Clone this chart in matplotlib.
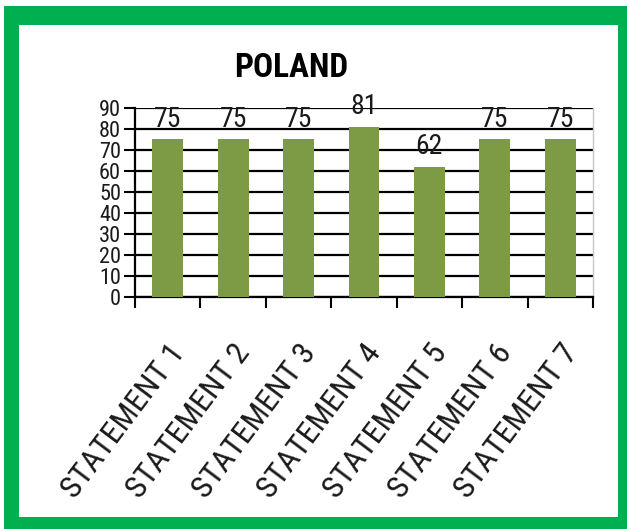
import matplotlib
matplotlib.use("Agg")
import matplotlib.pyplot as plt
from matplotlib import font_manager
from matplotlib.patches import Rectangle

# Chart data
categories = ["STATEMENT 1", "STATEMENT 2", "STATEMENT 3", "STATEMENT 4",
              "STATEMENT 5", "STATEMENT 6", "STATEMENT 7"]
values = [75, 75, 75, 81, 62, 75, 75]
y_ticks = [0, 10, 20, 30, 40, 50, 60, 70, 80, 90]
title = "POLAND"

# Prefer a narrow face for the tall, tight text; fall back to DejaVu Sans
installed = {f.name for f in font_manager.fontManager.ttflist}
narrow = next((n for n in ["Liberation Sans Narrow", "DejaVu Sans Condensed",
                           "Roboto Condensed", "Open Sans Condensed"]
               if n in installed), "DejaVu Sans")
FAM = [narrow, "DejaVu Sans"]

W, H = 627, 529
fig = plt.figure(figsize=(W / 100, H / 100), dpi=100, facecolor="white")

# Green frame around the chart
green = "#00B050"
fig.patches.append(Rectangle((4 / W, 0), 1 - 4 / W, 1 - 6 / H,
                             transform=fig.transFigure, facecolor=green,
                             edgecolor="none", zorder=0))
fig.patches.append(Rectangle((19 / W, 1 - 517 / H), (618 - 19) / W, (517 - 25) / H,
                             transform=fig.transFigure, facecolor="white",
                             edgecolor="none", zorder=0.5))

left, right, top, bottom = 135, 593, 108, 297
ax = fig.add_axes([left / W, 1 - bottom / H, (right - left) / W, (bottom - top) / H])
ax.set_zorder(2)
ax.set_facecolor("none")

x = list(range(len(categories)))
bar_color = "#7D9B44"
ax.bar(x, values, width=0.47, color=bar_color, zorder=3)

for xi, v in zip(x, values):
    ax.annotate(str(v), (xi, v), xytext=(0, 5), textcoords="offset points",
                ha="center", va="bottom", fontsize=20, family=FAM,
                color="#1a1a1a", zorder=4)

ax.set_xlim(-0.5, len(categories) - 0.5)
ax.set_ylim(0, 90)
ax.set_yticks(y_ticks)
ax.set_yticklabels([str(t) for t in y_ticks], fontsize=16, family=FAM, color="#1a1a1a")
ax.yaxis.grid(True, color="black", linewidth=1.6, zorder=1)
ax.set_axisbelow(True)

# Category ticks sit on the boundaries between bars
ax.set_xticks([i - 0.5 for i in range(len(categories) + 1)])
ax.set_xticklabels([])
ax.set_xticks(x, minor=True)
ax.set_xticklabels(categories, minor=True, rotation=53, ha="right",
                   rotation_mode="anchor", fontsize=23, family=FAM, color="#1a1a1a")
ax.tick_params(axis="x", which="minor", length=0, pad=30)
ax.tick_params(axis="x", which="major", length=8, width=1.5, color="black")
ax.tick_params(axis="y", length=8, width=1.5, color="black", pad=2)

ax.spines["top"].set_visible(False)
ax.spines["right"].set_color("#c8c8c8")
ax.spines["right"].set_linewidth(1.0)
ax.spines["left"].set_linewidth(1.6)
ax.spines["bottom"].set_linewidth(1.6)

fig.text(291 / W, 1 - 68 / H, title, ha="center", va="center",
         fontsize=24, fontweight="bold", family=FAM, color="black", zorder=3)

fig.savefig("out.png", dpi=100, facecolor="white")
